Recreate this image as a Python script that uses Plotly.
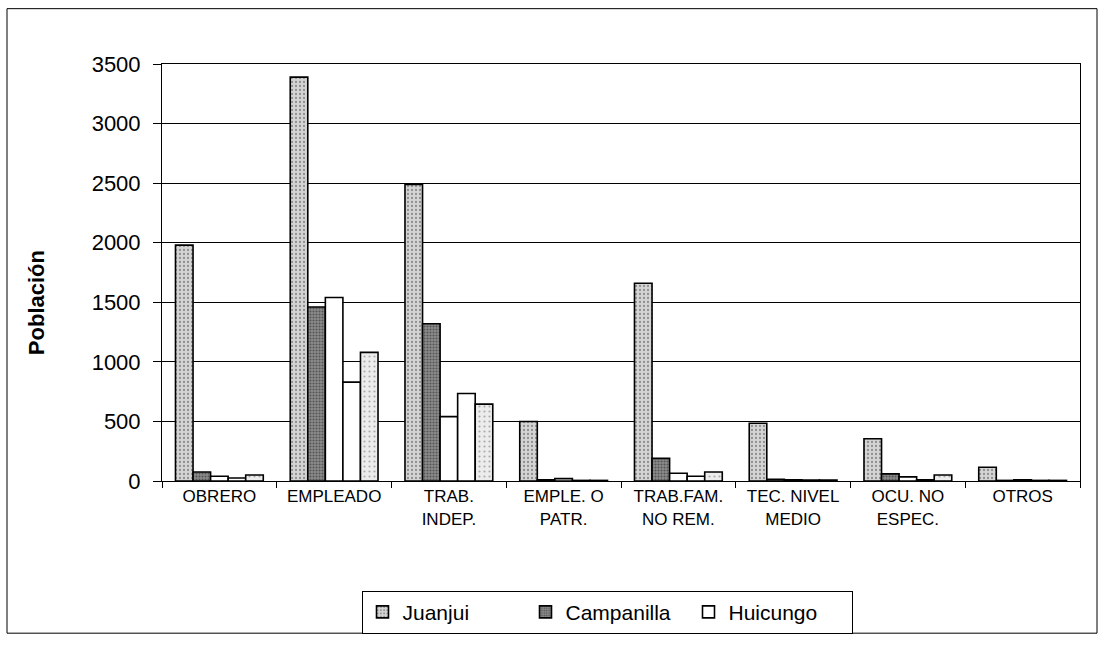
import plotly.graph_objects as go

# Occupational categories (x axis)
categorias = [
    "OBRERO",
    "EMPLEADO",
    "TRAB.<br>INDEP.",
    "EMPLE. O<br>PATR.",
    "TRAB.FAM.<br>NO REM.",
    "TEC. NIVEL<br>MEDIO",
    "OCU. NO<br>ESPEC.",
    "OTROS",
]

# Population per district
juanjui = [1980, 3390, 2490, 500, 1660, 485, 355, 115]
campanilla = [75, 1460, 1320, 10, 190, 15, 60, 5]
huicungo = [40, 1540, 540, 20, 65, 10, 35, 10]
pachiza = [25, 830, 735, 5, 40, 8, 10, 5]
pajarillo = [50, 1080, 645, 5, 75, 8, 50, 5]

y_ticks = [0, 500, 1000, 1500, 2000, 2500, 3000, 3500]

FONT = "Arial, Liberation Sans, sans-serif"

# plot area in pixels
L, R, T, B = 162, 1080, 64, 486
W, H = R - L, B - T


def px_x(p):
    return (p - L) / W


def px_y(p):
    return (B - p) / H


series = [
    ("Juanjui", juanjui, True,
     dict(shape=".", bgcolor="#d4d4d4", fgcolor="#4a4a4a", size=4, solidity=0.25)),
    ("Campanilla", campanilla, True,
     dict(shape=".", bgcolor="#8c8c8c", fgcolor="#1e1e1e", size=3, solidity=0.4)),
    ("Huicungo", huicungo, True, None),
    ("Pachiza", pachiza, False, None),
    ("Pajarillo", pajarillo, False,
     dict(shape=".", bgcolor="#ececec", fgcolor="#6a6a6a", size=5, solidity=0.15)),
]

fig = go.Figure()
for name, vals, in_legend, pattern in series:
    marker = dict(color="white", line=dict(color="black", width=1.6))
    if pattern is not None:
        marker["color"] = pattern["bgcolor"]
        marker["pattern"] = pattern
    fig.add_trace(go.Bar(
        x=categorias, y=vals, name=name, showlegend=in_legend, marker=marker,
    ))

fig.update_layout(
    width=1104, height=646,
    margin=dict(l=L, r=1104 - R, t=T, b=646 - B),
    paper_bgcolor="white", plot_bgcolor="white",
    barmode="group", bargap=0.235, bargroupgap=0,
    font=dict(family=FONT, color="black"),
    legend=dict(
        orientation="h", x=px_x(607), xanchor="center", y=px_y(597), yanchor="top",
        bordercolor="black", borderwidth=1, font=dict(size=21, family=FONT),
        itemwidth=30, traceorder="normal",
        entrywidth=118, entrywidthmode="pixels",
    ),
    shapes=[
        dict(type="rect", xref="paper", yref="paper",
             x0=px_x(7), x1=px_x(1097), y0=px_y(640), y1=px_y(8),
             line=dict(color="black", width=1), fillcolor="rgba(0,0,0,0)",
             layer="below"),
    ],
    annotations=[
        dict(text="<b>Población</b>", xref="paper", yref="paper",
             x=px_x(36), y=px_y(305), textangle=-90, showarrow=False,
             xanchor="center", yanchor="middle",
             font=dict(size=22, family=FONT, color="black")),
    ],
)

fig.update_yaxes(
    range=[0, 3500], tickvals=y_ticks, ticks="outside", ticklen=8,
    tickcolor="black", showgrid=True, gridcolor="black", gridwidth=1,
    showline=True, linecolor="black", linewidth=1, mirror=True,
    tickfont=dict(size=22, family=FONT), zeroline=False, ticklabelstandoff=8,
)
fig.update_xaxes(
    ticks="outside", tickson="boundaries", ticklen=6, tickcolor="black",
    showline=True, linecolor="black", linewidth=1, mirror=True,
    tickfont=dict(size=17, family=FONT), tickangle=0,
)

fig.write_html("out.html")
